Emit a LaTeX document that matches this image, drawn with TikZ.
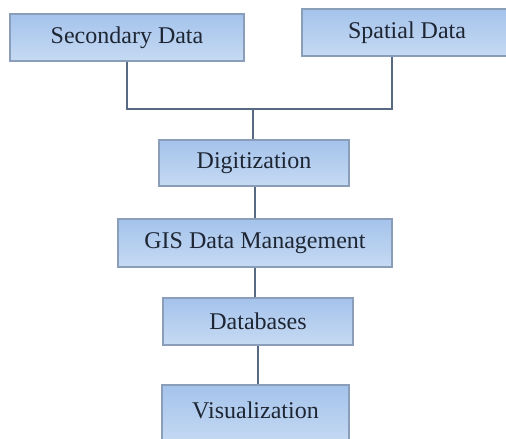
\documentclass[tikz,border=0pt]{standalone}
\usepackage{fontspec}
\setmainfont{Liberation Serif}
\definecolor{boxtop}{RGB}{164,195,235}
\definecolor{boxbot}{RGB}{198,218,243}
\definecolor{boxedge}{RGB}{138,158,186}
\definecolor{linkcol}{RGB}{88,106,130}
\definecolor{txtcol}{RGB}{30,38,52}
\begin{document}
\begin{tikzpicture}[x=1pt, y=-1pt,
  stage/.style={draw=boxedge, line width=1.2pt, top color=boxtop, bottom color=boxbot, text=txtcol, font=\fontsize{24}{28}\selectfont, inner sep=0pt, minimum height=47pt},
  link/.style={draw=linkcol, line width=2.5pt}]
  \clip (0,0) rectangle (506,439);
  \fill [white] (0,0) rectangle (506,439);

  \node [stage, minimum width=234pt] (secondary) at (127,37.5) {Secondary Data};
  \node [stage, minimum width=210pt] (spatial) at (407,32.5) {Spatial Data};
  \node [stage, minimum width=190pt, minimum height=46pt] (digit) at (254,163) {Digitization};
  \node [stage, minimum width=274pt, minimum height=48pt] (gis) at (255,243) {GIS Data Management};
  \node [stage, minimum width=190pt] (db) at (258,321.5) {Databases};
  \node [stage, minimum width=187pt, minimum height=60pt] (vis) at (255.5,415) {};
  \node [text=txtcol, font=\fontsize{24}{28}\selectfont] (vistext) at (255.5,410) {Visualization};

  \coordinate (join) at (253,109);
  \draw [link] (secondary.south) |- (join);
  \draw [link] ([xshift=-15pt]spatial.south) |- (join);
  \draw [link] (join) -- (join |- digit.north);
  \draw [link] (gis.north |- digit.south) -- (gis.north);
  \draw [link] (db.north -| gis.south) -- (gis.south);
  \draw [link] (db.south) -- (db.south |- vis.north);
\end{tikzpicture}
\end{document}
